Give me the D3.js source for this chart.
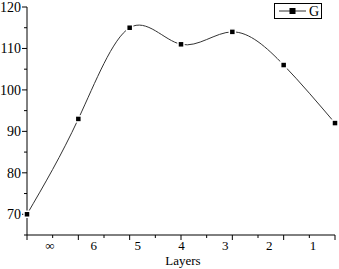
<!DOCTYPE html>
<html>
<head>
<meta charset="utf-8">
<script src="https://cdn.jsdelivr.net/npm/d3@7"></script>
<style>
  body { margin: 0; background: #fff; }
  svg { display: block; }
  text { font-family: "Liberation Serif", "Times New Roman", serif; fill: #000; }
</style>
</head>
<body>
<div id="chart"></div>
<script>
var layers = ["\u221e", "6", "5", "4", "3", "2", "1"];
var gValues = [70, 93, 115, 111, 114, 106, 92];
var yTicks = [70, 80, 90, 100, 110, 120];

var width = 339, height = 269;

var svg = d3.select("#chart").append("svg")
  .attr("width", width)
  .attr("height", height);

// points sit on major ticks, labels are spread on their own (as in the original)
var x = d3.scaleLinear().domain([0, layers.length - 1]).range([27, 335]);
var xLab = d3.scalePoint().domain(layers).range([50, 313]);
var y = d3.scaleLinear().domain([65, 120]).range([235, 7]);

// y axis
var yAxis = svg.append("g").attr("transform", "translate(27,0)");
yAxis.append("line").attr("y1", y(65)).attr("y2", y(120)).attr("stroke", "#000");
d3.range(65, 121, 5).forEach(function(v) {
  var major = v % 10 === 0;
  yAxis.append("line")
    .attr("x1", major ? -5 : -3).attr("x2", 0)
    .attr("y1", y(v)).attr("y2", y(v))
    .attr("stroke", "#000");
});
yAxis.selectAll("text.tl").data(yTicks).enter().append("text")
  .attr("class", "tl")
  .attr("x", -6).attr("y", function(d) { return y(d); })
  .attr("dy", "0.35em")
  .attr("text-anchor", "end")
  .style("font-size", "14px")
  .text(function(d) { return d; });

// x axis
var xAxis = svg.append("g").attr("transform", "translate(0," + y(65) + ")");
xAxis.append("line").attr("x1", x(0)).attr("x2", x(6)).attr("stroke", "#000");
d3.range(0, 6.01, 0.5).forEach(function(v) {
  var major = v % 1 === 0;
  xAxis.append("line")
    .attr("x1", x(v)).attr("x2", x(v))
    .attr("y1", 0).attr("y2", major ? 5 : 3)
    .attr("stroke", "#000");
});
xAxis.selectAll("text.tl").data(layers).enter().append("text")
  .attr("class", "tl")
  .attr("x", function(d) { return xLab(d); })
  .attr("y", 15)
  .attr("text-anchor", "middle")
  .style("font-size", "13px")
  .text(function(d) { return d; });

svg.append("text")
  .attr("x", 183).attr("y", 265)
  .attr("text-anchor", "middle")
  .style("font-size", "13px")
  .text("Layers");

// curve
var line = d3.line()
  .x(function(d, i) { return x(i); })
  .y(function(d) { return y(d); })
  .curve(d3.curveNatural);

svg.append("path")
  .datum(gValues)
  .attr("d", line)
  .attr("fill", "none")
  .attr("stroke", "#333")
  .attr("stroke-width", 1);

svg.selectAll("rect.pt").data(gValues).enter().append("rect")
  .attr("class", "pt")
  .attr("x", function(d, i) { return x(i) - 3; })
  .attr("y", function(d) { return y(d) - 3; })
  .attr("width", 6).attr("height", 6)
  .attr("fill", "#000")
  .attr("stroke", "#fff")
  .attr("stroke-width", 1.5);

// legend
var lg = svg.append("g");
lg.append("rect")
  .attr("x", 274.5).attr("y", 3.5)
  .attr("width", 47).attr("height", 15)
  .attr("fill", "#fff").attr("stroke", "#000");
lg.append("line")
  .attr("x1", 279).attr("x2", 306).attr("y1", 11).attr("y2", 11)
  .attr("stroke", "#333");
lg.append("rect")
  .attr("x", 289.5).attr("y", 8).attr("width", 6).attr("height", 6)
  .attr("fill", "#000");
lg.append("text")
  .attr("x", 309).attr("y", 16)
  .style("font-size", "14px")
  .text("G");
</script>
</body>
</html>
